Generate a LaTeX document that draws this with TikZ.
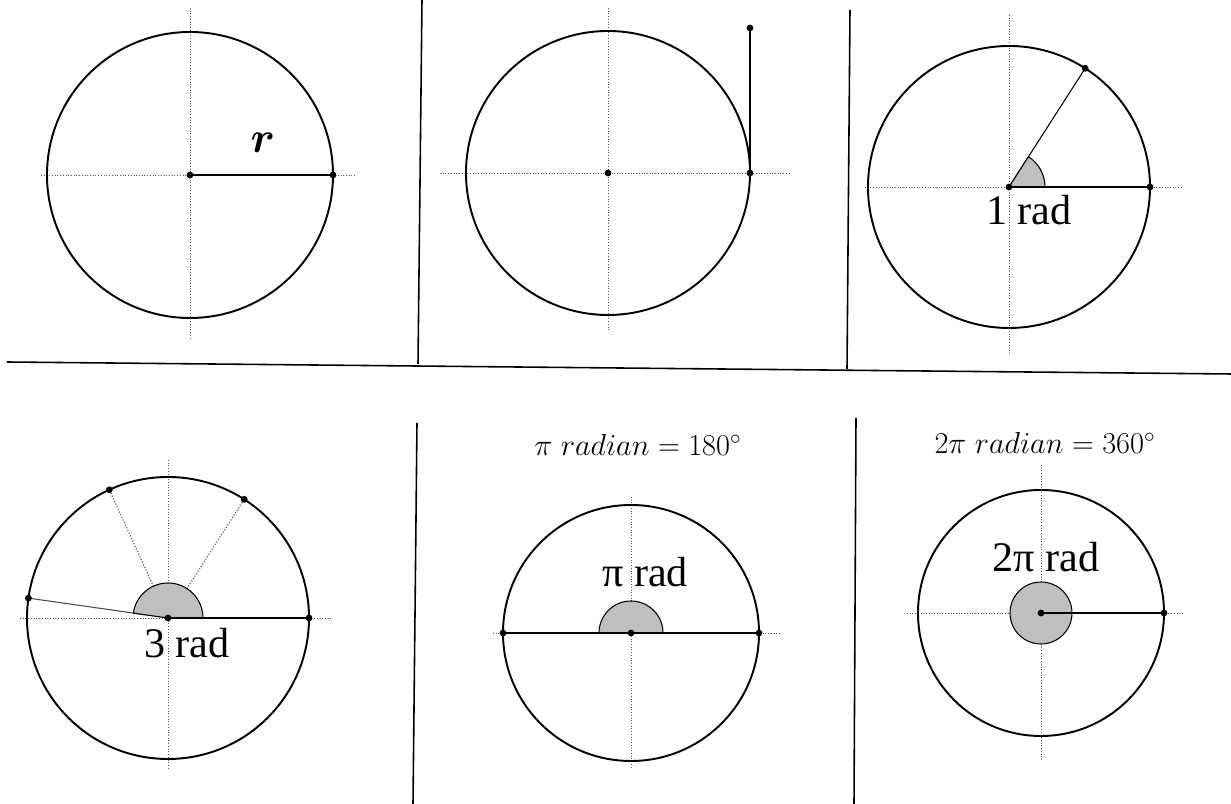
\documentclass[tikz,border=0pt]{standalone}
\usepackage{amsmath}
\usepackage{fontspec}
\setmainfont{Liberation Serif}
\usepackage{tikz}
\usetikzlibrary{positioning, calc}
\tikzset{
  wheel/.style={draw=black, line width=1.1pt},
  axisline/.style={draw=gray!70!black, densely dotted, line width=0.55pt},
  spoke/.style={draw=black, line width=1.3pt},
  thinspoke/.style={draw=black, line width=0.6pt},
  dotspoke/.style={draw=gray!70!black, densely dotted, line width=0.65pt},
  sector/.style={draw=black, fill=gray!50, line width=0.6pt},
  divider/.style={draw=black, line width=0.9pt},
  radlabel/.style={font=\fontsize{24}{28}\selectfont},
  title/.style={font=\fontsize{17}{20}\selectfont}
}

\begin{document}
\begin{tikzpicture}[x=0.02cm, y=0.02cm]
  \useasboundingbox (0,0) rectangle (1231,804);

  % frame lines
  \draw[divider] (7,442) -- (1231,430);
  \draw[divider] (422,804) -- (418,440);
  \draw[divider] (850,794) -- (847,435);
  \draw[divider] (417,381) -- (413,0);
  \draw[divider] (856,386) -- (854,0);

  % panel 1
  \coordinate (c1) at (190,629);
  \coordinate (a1) at (333,629);
  \draw[axisline] (190,796) -- (190,464);
  \draw[axisline] (41,629) -- (355,629);
  \draw[wheel] (c1) circle[radius=143];
  \draw[spoke] (c1) -- (a1);
  \node[font=\fontsize{30}{34}\selectfont] (rlab) at (263,661) {$\boldsymbol{r}$};

  % panel 2
  \coordinate (c2) at (608,631);
  \coordinate (a2) at (750,631);
  \coordinate (t2) at (750,776);
  \draw[axisline] (608,796) -- (608,474);
  \draw[axisline] (440,631) -- (790,631);
  \draw[wheel] (c2) circle[radius=142];
  \draw[spoke] (a2) -- (t2);

  % panel 3
  \coordinate (c3) at (1009,617);
  \coordinate (a3) at (1150,617);
  \coordinate (b3) at ($(c3)+(57.3:141)$);
  \draw[axisline] (1009,789) -- (1009,449);
  \draw[axisline] (865,617) -- (1183,617);
  \draw[wheel] (c3) circle[radius=141];
  \draw[thinspoke] (c3) -- (b3);
  \filldraw[sector] (c3) -- ++(0:36) arc[start angle=0, end angle=57.3, radius=36] -- cycle;
  \draw[spoke] (c3) -- (a3);
  \node[radlabel] (lab3) at (1029,594) {1 rad};

  % panel 4
  \coordinate (c4) at (168,186);
  \coordinate (a4) at (309,186);
  \coordinate (p41) at ($(c4)+(57.3:141)$);
  \coordinate (p42) at ($(c4)+(114.6:141)$);
  \coordinate (p43) at ($(c4)+(171.9:141)$);
  \draw[axisline] (168,344) -- (168,34);
  \draw[axisline] (20,186) -- (333,186);
  \draw[wheel] (c4) circle[radius=141];
  \draw[dotspoke] (c4) -- (p41);
  \draw[dotspoke] (c4) -- (p42);
  \draw[thinspoke, draw=gray!60!black] (c4) -- (p43);
  \filldraw[sector] (c4) -- ++(0:35) arc[start angle=0, end angle=171.9, radius=35] -- cycle;
  \draw[spoke] (c4) -- (a4);
  \node[radlabel] (lab4) at (187,161) {3 rad};

  % panel 5
  \coordinate (c5) at (631,171);
  \coordinate (a5) at (759,171);
  \coordinate (d5) at (503,171);
  \draw[axisline] (631,307) -- (631,36);
  \draw[axisline] (493,171) -- (780,171);
  \draw[wheel] (c5) circle[radius=128];
  \filldraw[sector] (c5) -- ++(0:32) arc[start angle=0, end angle=180, radius=32] -- cycle;
  \draw[spoke] (d5) -- (a5);
  \node[radlabel] (lab5) at (645,232) {π rad};
  \node[title] (head5) at (638,359) {$\pi\;radian = 180^{\circ}$};

  % panel 6
  \coordinate (c6) at (1041,191);
  \coordinate (a6) at (1164,191);
  \draw[axisline] (1041,339) -- (1041,44);
  \draw[axisline] (907,191) -- (1183,191);
  \draw[wheel] (c6) circle[radius=123];
  \filldraw[sector] (c6) circle[radius=31];
  \draw[spoke] (c6) -- (a6);
  \node[radlabel] (lab6) at (1046,247) {2π rad};
  \node[title] (head6) at (1045,361) {$2\pi\;radian = 360^{\circ}$};

  \foreach \p in {c1,a1,c2,a2,t2,c3,a3,b3,c4,a4,p41,p42,p43,c5,a5,d5,c6,a6}
    \fill (\p) circle[radius=3.4];
\end{tikzpicture}
\end{document}
